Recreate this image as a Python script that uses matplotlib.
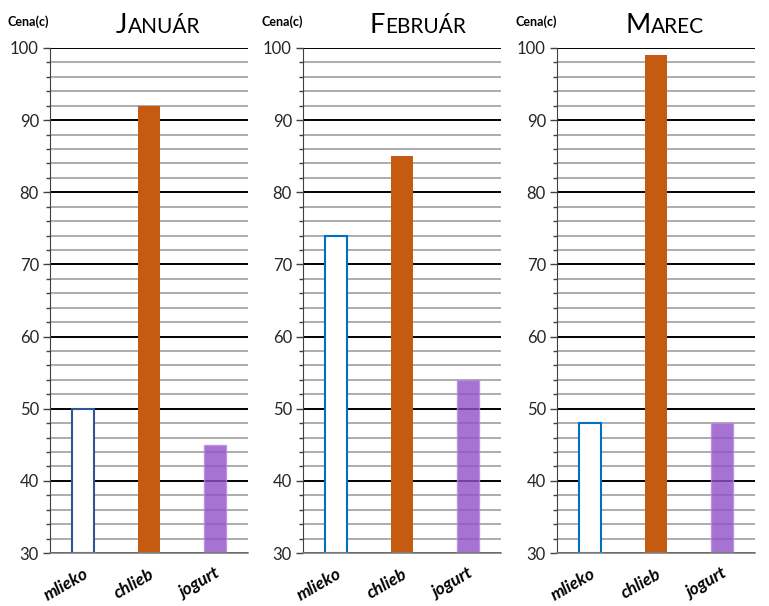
import matplotlib.pyplot as plt
from matplotlib.ticker import MultipleLocator

plt.rcParams["font.family"] = ["Lato", "DejaVu Sans"]

months = ["Január", "Február", "Marec"]
products = ["mlieko", "chlieb", "jogurt"]
jan_prices = [50, 92, 45]
feb_prices = [74, 85, 54]
mar_prices = [48, 99, 48]
milk_edges = ["#2F5597", "#0070C0", "#0070C0"]

W, H = 769, 606
fig = plt.figure(figsize=(W / 100, H / 100), dpi=100)

panel_left = [50, 303, 557]
title_center = [158, 418, 665]


def small_caps_title(text, cx, cy):
    """Draw a small-caps title centred at pixel (cx, cy baseline)."""
    first = fig.text(0, cy / H, text[0].upper(), fontsize=19.5, va="baseline")
    rest = fig.text(0, cy / H, text[1:].upper(), fontsize=15, va="baseline")
    fig.canvas.draw()
    r = fig.canvas.get_renderer()
    w1 = first.get_window_extent(r).width
    w2 = rest.get_window_extent(r).width
    x0 = cx - (w1 + w2) / 2
    first.set_x(x0 / W)
    rest.set_x((x0 + w1) / W)


for i, (month, prices) in enumerate(zip(months, [jan_prices, feb_prices, mar_prices])):
    ax = fig.add_axes([panel_left[i] / W, 53 / H, 198 / W, 505 / H])
    ax.set_ylim(30, 100)
    ax.set_xlim(-0.5, 2.5)
    ax.yaxis.set_major_locator(MultipleLocator(10))
    ax.yaxis.set_minor_locator(MultipleLocator(2))
    ax.grid(which="minor", axis="y", color="#a6a6a6", lw=1.3, zorder=0)
    ax.grid(which="major", axis="y", color="black", lw=1.4, zorder=0.5)
    ax.set_axisbelow(True)

    x = range(len(products))
    ax.bar(0, prices[0] - 30, bottom=30, width=0.33, color="white",
           edgecolor=milk_edges[i], lw=1.5, zorder=2)
    ax.bar(1, prices[1] - 30, bottom=30, width=0.33, color="#C55A11", zorder=2)
    ax.bar(2, prices[2] - 30, bottom=30, width=0.33, color="#9150C8",
           alpha=0.8, edgecolor="#b58ae0", lw=1, zorder=2)

    for s in ["top", "right"]:
        ax.spines[s].set_visible(False)
    ax.spines["left"].set_color("#404040")
    ax.spines["bottom"].set_color("#808080")
    ax.spines["bottom"].set_linewidth(1.2)

    ax.tick_params(axis="y", which="major", length=5, width=1, color="#404040",
                   labelsize=12, labelcolor="#262626", pad=3)
    ax.tick_params(axis="y", which="minor", length=3, width=1, color="#404040")
    ax.set_xticks(list(x))
    ax.set_xticklabels(products, rotation=30, ha="right", rotation_mode="anchor",
                       fontsize=12.5, fontweight="bold", fontstyle="italic")
    ax.tick_params(axis="x", length=0, pad=9)

    fig.text((panel_left[i] - 42) / W, 1 - 22 / H, "Cena(c)", fontsize=9,
             fontweight="bold", va="center", ha="left")
    small_caps_title(month, title_center[i], H - 33)

fig.savefig("out.png", dpi=100)
